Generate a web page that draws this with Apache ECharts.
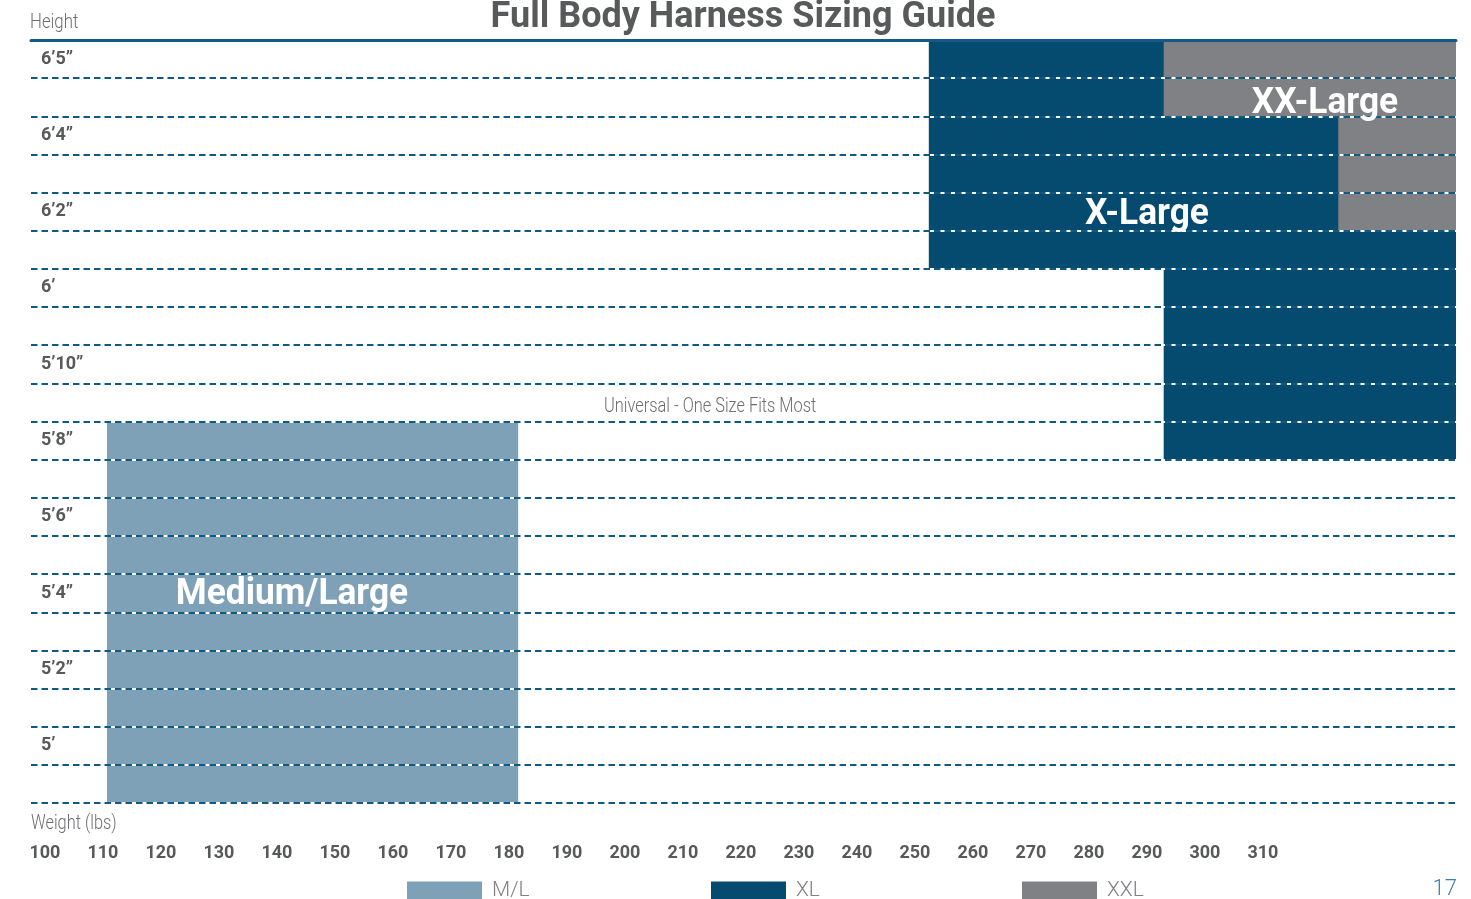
<!DOCTYPE html>
<html>
<head>
<meta charset="utf-8">
<script src="https://cdn.jsdelivr.net/npm/echarts@6/dist/echarts.min.js"></script>
<style>
html,body{margin:0;padding:0;background:#fff;}
#chart{width:1471px;height:899px;}
</style>
</head>
<body>
<div id="chart"></div>
<script>
// ---- data ----
const weightTicks = [100,110,120,130,140,150,160,170,180,190,200,210,220,230,240,250,260,270,280,290,300,310];
const heightRows = [1.5,3.5,5.5,7.5,9.5,11.5,13.5,15.5,17.5,19.5];
const heightLabels = ['5’','5’2”','5’4”','5’6”','5’8”','5’10”','6’','6’2”','6’4”','6’5”'];
const sizeNames = ['M/L','XL','XXL'];
// [weightFrom, weightTo, rowFrom, rowTo]
const mlRanges = [[110.7,181.6,0,10]];
const xlRanges = [[252.4,343.3,14,20],[292.9,343.3,9,14]];
const xxlRanges = [[292.9,343.3,18,20],[323,343.3,15,18]];
// [weight, row, text]
const sizeLabels = [[142.6,5.45,'Medium/Large'],[290,15.42,'X-Large'],[320.7,18.32,'XX-Large'],[214.7,10.38,'Universal - One Size Fits Most']];

const FONT = "Roboto,'Noto Sans',sans-serif";
const chart = echarts.init(document.getElementById('chart'));

function rectItem(params, api){
  const p0 = api.coord([api.value(0), api.value(3)]);
  const p1 = api.coord([api.value(1), api.value(2)]);
  return {type:'rect', shape:{x:p0[0], y:p0[1], width:p1[0]-p0[0], height:p1[1]-p0[1]}, style:{fill: api.visual('color')}};
}
function rectSeries(name, data, color){
  return {type:'custom', name:name, data:data, renderItem:rectItem, itemStyle:{color:color},
    encode:{x:[0,1], y:[2,3]}, silent:true, z:2};
}

const yBase = {type:'value', min:0, max:20, interval:1, gridIndex:0,
  axisLine:{show:false}, axisTick:{show:false}};

chart.setOption({
  animation:false,
  grid:{left:31, right:15, top:40, bottom:96},
  xAxis:[
    {type:'value', min:97.6, max:343.3, position:'bottom',
     axisLine:{show:false}, axisTick:{show:false}, splitLine:{show:false},
     axisLabel:{customValues:weightTicks, margin:41, color:'#58595b', fontFamily:FONT, fontWeight:'bold', fontSize:18}},
    {type:'value', min:97.6, max:343.3, position:'top', z:5,
     axisLine:{show:true, onZero:false, lineStyle:{color:'#14588a', width:3}}, axisTick:{show:false}, axisLabel:{show:false}, splitLine:{show:false}}
  ],
  yAxis:[
    Object.assign({}, yBase, {z:3,
      splitLine:{show:true, lineStyle:{color:'#ffffff', width:2, type:'solid'}},
      axisLabel:{show:true, inside:true, margin:10, customValues:heightRows,
        formatter:function(v){ const i = heightRows.indexOf(v); return i>=0 ? heightLabels[i] : ''; },
        color:'#58595b', fontFamily:FONT, fontWeight:'bold', fontSize:18}}),
    Object.assign({}, yBase, {z:4,
      splitLine:{show:true, lineStyle:{color:'#0f5a84', width:2, type:[6.5,4]}},
      axisLabel:{show:false}})
  ],
  legend: sizeNames.map(function(n,i){
    return {data:[n], left:[407,711,1022][i], top:880, itemWidth:75, itemHeight:18, icon:'rect', itemGap:10,
      selectedMode:false, textStyle:{color:'#808285', fontFamily:FONT, fontWeight:'300', fontSize:21, padding:[0,0,0,5]}, padding:0};
  }),
  series:[
    rectSeries('M/L', mlRanges, '#7fa1b8'),
    rectSeries('XL', xlRanges, '#054b70'),
    rectSeries('XXL', xxlRanges, '#808184'),
    {type:'custom', name:'labels', data:sizeLabels, silent:true, z:10, encode:{x:0,y:1},
     renderItem:function(params, api){
       const p = api.coord([api.value(0), api.value(1)]);
       const t = sizeLabels[params.dataIndex][2];
       const universal = params.dataIndex === 3;
       return {type:'text', x:p[0], y:p[1], scaleX: universal ? 0.78 : 0.98, style:{text:t, textAlign:'center', textVerticalAlign:'middle',
         fill: universal ? '#6d6e71' : '#ffffff', font: (universal ? '300 21px ' : 'bold 36px ') + FONT}};
     }}
  ],
  graphic:[
    {type:'text', x:743, y:36, style:{text:'Full Body Harness Sizing Guide', textAlign:'center', textVerticalAlign:'bottom', fill:'#58595b', font:'bold 36px '+FONT}},
    {type:'text', x:30, y:23, scaleX:0.84, style:{text:'Height', textAlign:'left', textVerticalAlign:'middle', fill:'#6d6e71', font:'300 20px '+FONT}},
    {type:'text', x:31, y:824, scaleX:0.82, style:{text:'Weight (lbs)', textAlign:'left', textVerticalAlign:'middle', fill:'#6d6e71', font:'300 20px '+FONT}},
    {type:'text', x:1457, y:889, style:{text:'17', textAlign:'right', textVerticalAlign:'middle', fill:'#3b7fb0', font:'300 22px '+FONT}}
  ]
});
</script>
</body>
</html>
